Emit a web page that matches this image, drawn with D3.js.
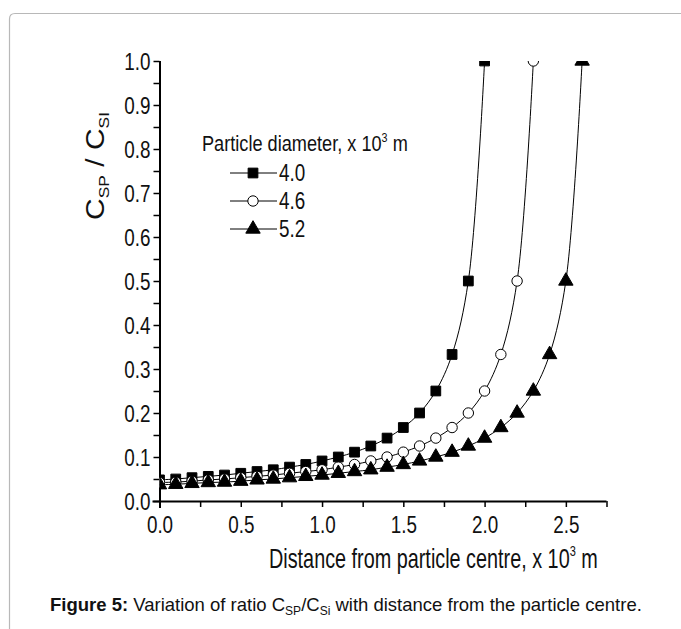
<!DOCTYPE html>
<html>
<head>
<meta charset="utf-8">
<title>Figure 5</title>
<script src="https://d3js.org/d3.v7.min.js"></script>
<style>
  body { margin: 0; background: #fff; }
  text { font-family: "Liberation Sans", Arial, sans-serif; }
</style>
</head>
<body>
<script>
// data
const diameters = ["4.0", "4.6", "5.2"];
const xs40 = [0.0, 0.1, 0.2, 0.3, 0.4, 0.5, 0.6, 0.7, 0.8, 0.9, 1.0, 1.1, 1.2, 1.3, 1.4, 1.5, 1.6, 1.7, 1.8, 1.9, 2.0];
const ys40 = [0.048, 0.050, 0.053, 0.056, 0.059, 0.063, 0.067, 0.071, 0.077, 0.083, 0.091, 0.100, 0.111, 0.125, 0.143, 0.167, 0.200, 0.250, 0.333, 0.500, 1.000];
const xs46 = [0.0, 0.1, 0.2, 0.3, 0.4, 0.5, 0.6, 0.7, 0.8, 0.9, 1.0, 1.1, 1.2, 1.3, 1.4, 1.5, 1.6, 1.7, 1.8, 1.9, 2.0, 2.1, 2.2, 2.3];
const ys46 = [0.042, 0.043, 0.045, 0.048, 0.050, 0.053, 0.056, 0.059, 0.063, 0.067, 0.071, 0.077, 0.083, 0.091, 0.100, 0.111, 0.125, 0.143, 0.167, 0.200, 0.250, 0.333, 0.500, 1.000];
const xs52 = [0.0, 0.1, 0.2, 0.3, 0.4, 0.5, 0.6, 0.7, 0.8, 0.9, 1.0, 1.1, 1.2, 1.3, 1.4, 1.5, 1.6, 1.7, 1.8, 1.9, 2.0, 2.1, 2.2, 2.3, 2.4, 2.5, 2.6];
const ys52 = [0.037, 0.038, 0.040, 0.042, 0.043, 0.045, 0.048, 0.050, 0.053, 0.056, 0.059, 0.063, 0.067, 0.071, 0.077, 0.083, 0.091, 0.100, 0.111, 0.125, 0.143, 0.167, 0.200, 0.250, 0.333, 0.500, 1.000];
const xTicks = [0, 0.5, 1.0, 1.5, 2.0, 2.5];
const yTicks = [0, 0.1, 0.2, 0.3, 0.4, 0.5, 0.6, 0.7, 0.8, 0.9, 1.0];

const width = 681, height = 629;
const NARROW = 0.82; // no Arial Narrow here, squeeze Liberation Sans instead

const svg = d3.select("body").append("svg")
    .attr("width", width)
    .attr("height", height);

svg.append("rect").attr("width", width).attr("height", height).attr("fill", "#fff");

// page frame (left + top edge, rounded corner)
svg.append("path")
    .attr("d", "M9.5,629 L9.5,19 Q9.5,13.5 15,13.5 L681,13.5")
    .attr("fill", "none")
    .attr("stroke", "#b8b8b8")
    .attr("stroke-width", 1.2);

// squeezed text placed at (px, py); fit to a width if one is given
function narrowText(parent, px, py, size, opts = {}) {
    const g = parent.append("g");
    const t = g.append("text")
        .style("font-size", size + "px")
        .attr("fill", "#111")
        .attr("text-anchor", opts.anchor || "start");
    if (opts.dy) t.attr("dy", opts.dy);
    return { g, t, place() {
        let k = NARROW;
        if (opts.width) k = opts.width / t.node().getComputedTextLength();
        g.attr("transform", `translate(${px},${py})${opts.rotate ? " rotate(-90)" : ""} scale(${k},1)`);
    } };
}

const x = d3.scaleLinear().domain([0, 2.75]).range([159.5, 606.5]);
const y = d3.scaleLinear().domain([0, 1]).range([501, 61]);

svg.append("defs").append("clipPath").attr("id", "plot-clip")
  .append("rect")
    .attr("x", x(0)).attr("y", y(1))
    .attr("width", x(2.75) - x(0)).attr("height", y(0) - y(1));

// axes
const xAxis = d3.axisBottom(x)
    .tickValues(d3.range(0, 2.76, 0.25))
    .tickSize(6)
    .tickFormat(d => xTicks.some(t => Math.abs(t - d) < 1e-6) ? d3.format(".1f")(d) : "");
const yAxis = d3.axisLeft(y)
    .tickValues(d3.range(0, 1.001, 0.05))
    .tickSize(6)
    .tickFormat(d => yTicks.some(t => Math.abs(t - d) < 1e-6) ? d3.format(".1f")(d) : "");

const gx = svg.append("g").attr("transform", `translate(0,${y(0)})`).call(xAxis);
const gy = svg.append("g").attr("transform", `translate(${x(0)},0)`).call(yAxis);

[gx, gy].forEach(g => {
    g.select(".domain").attr("stroke", "#000").attr("stroke-width", 2);
    g.selectAll(".tick line").attr("stroke", "#000").attr("stroke-width", 1.5);
    g.selectAll(".tick text")
        .attr("fill", "#111")
        .style("font-family", "'Liberation Sans', Arial, sans-serif")
        .style("font-size", "23px");
});
gx.select(".domain").attr("d", `M${x(0) - 7},0.5H${x(2.75)}`);
gy.select(".domain").attr("d", `M0.5,${y(0) + 7}V${y(1)}`);
gx.selectAll(".tick text").attr("y", 0).attr("dy", 0)
    .attr("transform", `translate(0,32) scale(${NARROW},1)`);
gy.selectAll(".tick text").attr("x", 0).attr("dy", "0.36em")
    .attr("transform", `translate(-9,0) scale(${NARROW},1)`);

// series
const series = [
    { name: diameters[0], xs: xs40, ys: ys40, sym: d3.symbolSquare, fill: "#000", size: 95 },
    { name: diameters[1], xs: xs46, ys: ys46, sym: d3.symbolCircle, fill: "#fff", size: 85 },
    { name: diameters[2], xs: xs52, ys: ys52, sym: d3.symbolTriangle, fill: "#000", size: 90 }
];

const line = d3.line()
    .x(d => x(d[0]))
    .y(d => y(d[1]))
    .curve(d3.curveCatmullRom.alpha(0.5));

const plot = svg.append("g").attr("clip-path", "url(#plot-clip)");

series.forEach(s => {
    const pts = s.xs.map((v, i) => [v, s.ys[i]]);
    plot.append("path")
        .datum(pts)
        .attr("d", line)
        .attr("fill", "none")
        .attr("stroke", "#000")
        .attr("stroke-width", 1);
    plot.selectAll(null)
        .data(pts)
        .enter()
        .append("path")
        .attr("transform", d => `translate(${x(d[0])},${y(d[1])})`)
        .attr("d", d3.symbol().type(s.sym).size(s.size))
        .attr("fill", s.fill)
        .attr("stroke", "#000")
        .attr("stroke-width", 1);
});

// legend
const legend = svg.append("g");
const lt = narrowText(legend, 202, 151, 22, { width: 206 });
lt.t.append("tspan").text("Particle diameter, x 10");
lt.t.append("tspan").attr("dy", -9).style("font-size", "13px").text("3");
lt.t.append("tspan").attr("dy", 9).text(" m");
lt.place();

series.forEach((s, i) => {
    const ly = 173 + i * 28;
    legend.append("line")
        .attr("x1", 230).attr("x2", 277)
        .attr("y1", ly).attr("y2", ly)
        .attr("stroke", "#000").attr("stroke-width", 1);
    legend.append("path")
        .attr("transform", `translate(253,${ly})`)
        .attr("d", d3.symbol().type(s.sym).size(s.size))
        .attr("fill", s.fill)
        .attr("stroke", "#000");
    const lab = narrowText(legend, 279, ly, 23, { dy: "0.36em" });
    lab.t.text(s.name);
    lab.place();
});

// axis titles
const xt = narrowText(svg, 269, 568, 27, { width: 329 });
xt.t.append("tspan").text("Distance from particle centre, x 10");
xt.t.append("tspan").attr("dy", -12).style("font-size", "15px").text("3");
xt.t.append("tspan").attr("dy", 12).text(" m");
xt.place();

const yt = narrowText(svg, 104, 166, 26, { anchor: "middle", rotate: true, width: 108 });
yt.t.append("tspan").text("C");
yt.t.append("tspan").attr("dy", 5).style("font-size", "15px").text("SP");
yt.t.append("tspan").attr("dy", -5).text(" / C");
yt.t.append("tspan").attr("dy", 5).style("font-size", "15px").text("SI");
yt.place();

// caption
svg.append("text")
    .attr("x", 50).attr("y", 611)
    .style("font-size", "18.5px")
    .attr("fill", "#111")
    .call(t => {
        t.append("tspan").style("font-weight", "bold").text("Figure 5:");
        t.append("tspan").text(" Variation of ratio C");
        t.append("tspan").attr("dy", 4).style("font-size", "12px").text("SP");
        t.append("tspan").attr("dy", -4).text("/C");
        t.append("tspan").attr("dy", 4).style("font-size", "12px").text("Si");
        t.append("tspan").attr("dy", -4).text(" with distance from the particle centre.");
    });
</script>
</body>
</html>
